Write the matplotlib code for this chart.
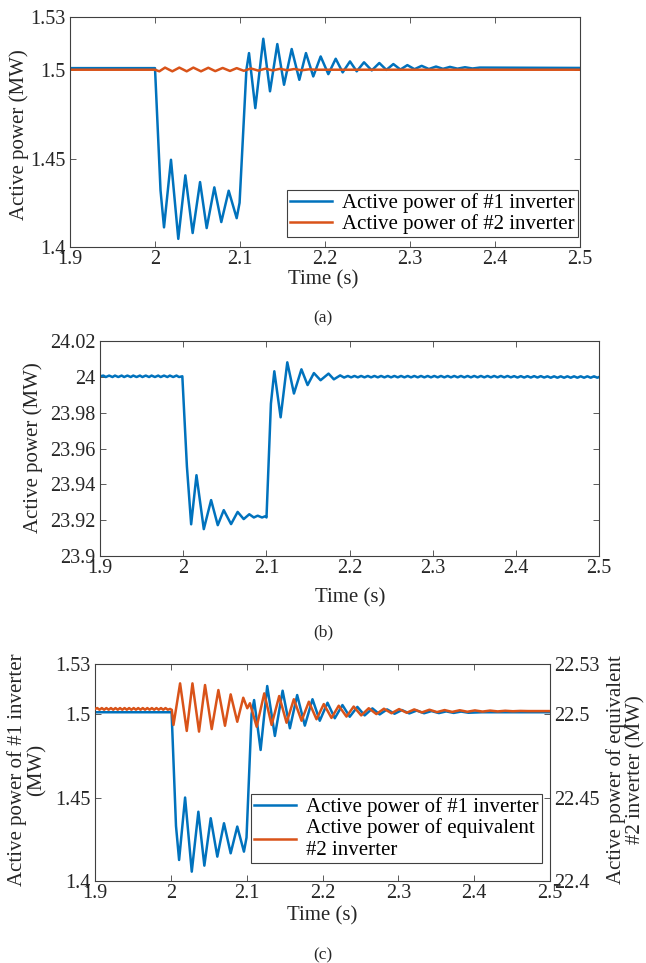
import matplotlib
matplotlib.use("Agg")
import matplotlib.pyplot as plt

plt.rcParams['font.family'] = ['Liberation Serif', 'DejaVu Serif']

BLUE = '#0072BD'
ORANGE = '#D95319'
EDGE = '#404040'
TXT = '#262626'

# ---------------- data ----------------
# (a) active power of #1 and #2 inverter (MW)
ta_1 = [1.9, 2.0, 2.0065, 2.0106, 2.0188, 2.0274, 2.0357, 2.0443, 2.053, 2.0608,
        2.0698, 2.078, 2.0867, 2.0961, 2.0995, 2.1075, 2.1106, 2.118, 2.1274, 2.1353,
        2.1439, 2.1518, 2.1608, 2.1698, 2.1776, 2.1862, 2.1949, 2.2039, 2.2126, 2.2208,
        2.2294, 2.2373, 2.2459, 2.255, 2.2639, 2.2722, 2.2804, 2.2887, 2.2969, 2.3053,
        2.3137, 2.3222, 2.3306, 2.3388, 2.347, 2.3558, 2.3647, 2.3735, 2.382, 2.5]
pa_1 = [1.5011, 1.5011, 1.432, 1.4111, 1.4493, 1.4046, 1.4405, 1.4079, 1.4367, 1.4107,
        1.4337, 1.4141, 1.4318, 1.4163, 1.425, 1.500, 1.5096, 1.4785, 1.5177, 1.488,
        1.5147, 1.4917, 1.5119, 1.4945, 1.5096, 1.4964, 1.5077, 1.4977, 1.5064, 1.4987,
        1.5049, 1.4993, 1.5044, 1.4998, 1.504, 1.5001, 1.5034, 1.5003, 1.5028, 1.5005,
        1.5024, 1.5006, 1.502, 1.5007, 1.5018, 1.5008, 1.5016, 1.5009, 1.5014, 1.5012]
ta_2 = [1.9, 2.0, 2.0051, 2.0118, 2.0204, 2.0286, 2.0373, 2.0451, 2.0541, 2.0627,
        2.0709, 2.0796, 2.0882, 2.0961, 2.1045, 2.113, 2.1215, 2.13, 2.1385, 2.147,
        2.1555, 2.164, 2.1725, 2.181, 2.19, 2.5]
pa_2 = [1.5002, 1.5002, 1.4993, 1.5014, 1.4993, 1.5014, 1.4993, 1.5014, 1.4993, 1.5013,
        1.4994, 1.5012, 1.4995, 1.5011, 1.4996, 1.5009, 1.4997, 1.5008, 1.4998, 1.5007,
        1.4999, 1.5006, 1.4999, 1.5004, 1.5002, 1.5002]

# (b) total active power (MW)
tb = [1.900, 1.904, 1.907, 1.911, 1.915, 1.918, 1.922, 1.926, 1.929, 1.933,
      1.937, 1.940, 1.944, 1.948, 1.951, 1.955, 1.959, 1.962, 1.966, 1.970,
      1.973, 1.977, 1.981, 1.984, 1.988, 1.992, 1.995, 1.999,
      2.0045, 2.0096, 2.016, 2.0248, 2.0336, 2.0416, 2.0488, 2.0576, 2.0655, 2.0728,
      2.0795, 2.085, 2.0896, 2.0948, 2.0988, 2.1002,
      2.1055, 2.1096, 2.1172, 2.1252, 2.1332, 2.1422, 2.1496, 2.1572, 2.1652, 2.1748,
      2.1812, 2.1888, 2.1935,
      2.198, 2.202, 2.206, 2.210, 2.214, 2.218, 2.222, 2.226, 2.230, 2.234,
      2.238, 2.242, 2.246, 2.250, 2.254, 2.258, 2.262, 2.266, 2.270, 2.274,
      2.278, 2.282, 2.286, 2.290, 2.294, 2.298, 2.302, 2.306, 2.310, 2.314,
      2.318, 2.322, 2.326, 2.330, 2.334, 2.338, 2.342, 2.346, 2.350, 2.354,
      2.358, 2.362, 2.366, 2.370, 2.374, 2.378, 2.382, 2.386, 2.390, 2.394,
      2.398, 2.402, 2.406, 2.410, 2.414, 2.418, 2.422, 2.426, 2.430, 2.434,
      2.438, 2.442, 2.446, 2.450, 2.454, 2.458, 2.462, 2.466, 2.470, 2.474,
      2.478, 2.482, 2.486, 2.490, 2.494, 2.498, 2.5]
pb = [24.0003, 24.0007, 23.9999, 24.0007, 23.9999, 24.0007, 23.9999, 24.0007, 23.9999, 24.0007,
      23.9999, 24.0007, 23.9999, 24.0007, 23.9999, 24.0007, 23.9999, 24.0007, 23.9999, 24.0007,
      23.9999, 24.0007, 23.9999, 24.0007, 23.9999, 24.0007, 23.9999, 24.0003,
      23.95, 23.9177, 23.9451, 23.915, 23.9312, 23.9172, 23.9256, 23.9178, 23.9246, 23.9206,
      23.9233, 23.9215, 23.9225, 23.9215, 23.9222, 23.9215,
      23.985, 24.0031, 23.9774, 24.0081, 23.9907, 24.0042, 23.9954, 24.0021, 23.9981, 24.0018,
      23.9986, 24.0008, 23.9996,
      24.0005, 23.9997, 24.0005, 23.9997, 24.0005, 23.9997, 24.0005, 23.9997, 24.0005, 23.9997,
      24.0005, 23.9997, 24.0005, 23.9997, 24.0005, 23.9997, 24.0005, 23.9997, 24.0005, 23.9997,
      24.0005, 23.9997, 24.0005, 23.9997, 24.0005, 23.9997, 24.0005, 23.9997, 24.0005, 23.9997,
      24.0005, 23.9997, 24.0005, 23.9997, 24.0005, 23.9997, 24.0005, 23.9997, 24.0005, 23.9997,
      24.0005, 23.9997, 24.0005, 23.9997, 24.0005, 23.9997, 24.0005, 23.9997, 24.0005, 23.9997,
      24.0004, 23.9996, 24.0004, 23.9996, 24.0004, 23.9996, 24.0004, 23.9996, 24.0004, 23.9996,
      24.0003, 23.9995, 24.0003, 23.9995, 24.0003, 23.9995, 24.0003, 23.9995, 24.0003, 23.9995,
      24.0003, 23.9995, 24.0003, 23.9995, 24.0003, 23.9995, 23.9999]

# (c) #1 inverter (left axis) and equivalent #2 inverter (right axis)
tc_1 = [1.9, 2.001, 2.0068, 2.0109, 2.0188, 2.0276, 2.0363, 2.0442, 2.0526, 2.0613,
        2.0701, 2.0789, 2.0876, 2.0964, 2.0998, 2.1065, 2.1098, 2.1184, 2.1271, 2.1372,
        2.1474, 2.157, 2.1666, 2.1767, 2.1868, 2.1964, 2.2066, 2.2162, 2.2263, 2.2359,
        2.246, 2.2556, 2.2658, 2.2754, 2.2852, 2.295, 2.3047, 2.3145, 2.3242, 2.334,
        2.3437, 2.3535, 2.3632, 2.373, 2.3827, 2.3925, 2.41, 2.5]
pc_1 = [1.5011, 1.5011, 1.433, 1.4126, 1.45, 1.4056, 1.4415, 1.4092, 1.4376, 1.4146,
        1.4346, 1.4166, 1.4326, 1.4176, 1.426, 1.50, 1.5084, 1.4785, 1.5168, 1.4869,
        1.514, 1.4915, 1.5114, 1.4931, 1.5089, 1.496, 1.5068, 1.4975, 1.5054, 1.4984,
        1.5043, 1.4992, 1.5034, 1.4998, 1.5028, 1.5002, 1.5024, 1.5004, 1.5021, 1.5005,
        1.5018, 1.5006, 1.5016, 1.5007, 1.5015, 1.5008, 1.5011, 1.5011]
tc_2 = [1.900, 1.903, 1.906, 1.909, 1.912, 1.915, 1.918, 1.921, 1.924, 1.927,
        1.930, 1.933, 1.936, 1.939, 1.942, 1.945, 1.948, 1.951, 1.954, 1.957,
        1.960, 1.963, 1.966, 1.969, 1.972, 1.975, 1.978, 1.981, 1.984, 1.987,
        1.990, 1.993, 1.996, 1.999,
        2.0013, 2.0035, 2.0122, 2.021, 2.0285, 2.0372, 2.0451, 2.0539, 2.0627, 2.0714,
        2.0789, 2.0876, 2.0955, 2.1008, 2.1043, 2.1132, 2.1232, 2.1329, 2.1429, 2.1526,
        2.1622, 2.1724, 2.182, 2.1921, 2.2017, 2.2118, 2.2214, 2.2316, 2.2411, 2.251,
        2.261, 2.271, 2.281, 2.291, 2.301, 2.311, 2.321, 2.331, 2.341, 2.351,
        2.361, 2.371, 2.381, 2.391, 2.401, 2.411, 2.421, 2.431, 2.441, 2.451,
        2.461, 2.471, 2.5]
pc_2 = [22.5031, 22.5036, 22.5026, 22.5036, 22.5026, 22.5036, 22.5026, 22.5036, 22.5026, 22.5036,
        22.5026, 22.5036, 22.5026, 22.5036, 22.5026, 22.5036, 22.5026, 22.5036, 22.5026, 22.5036,
        22.5026, 22.5036, 22.5026, 22.5036, 22.5026, 22.5036, 22.5026, 22.5036, 22.5026, 22.5036,
        22.5026, 22.5036, 22.5026, 22.5031,
        22.5025, 22.4935, 22.5184, 22.4899, 22.5184, 22.4895, 22.5174, 22.491, 22.5144, 22.493,
        22.5118, 22.4954, 22.5098, 22.5035, 22.5065, 22.4924, 22.5124, 22.4935, 22.5108, 22.4948,
        22.5089, 22.496, 22.5074, 22.4969, 22.506, 22.4977, 22.505, 22.4985, 22.5045, 22.4992,
        22.5035, 22.5, 22.5032, 22.5005, 22.503, 22.5008, 22.5028, 22.501, 22.5026, 22.5012,
        22.5024, 22.5013, 22.5023, 22.5014, 22.5022, 22.5015, 22.5021, 22.5016, 22.502, 22.5017,
        22.5019, 22.5018, 22.5018]

x_ticks = [1.9, 2.0, 2.1, 2.2, 2.3, 2.4, 2.5]
x_labels = ['1.9', '2', '2.1', '2.2', '2.3', '2.4', '2.5']
ya_ticks = [1.4, 1.45, 1.5, 1.53]
ya_labels = ['1.4', '1.45', '1.5', '1.53']
yb_ticks = [23.9, 23.92, 23.94, 23.96, 23.98, 24.0, 24.02]
yb_labels = ['23.9', '23.92', '23.94', '23.96', '23.98', '24', '24.02']
yc2_ticks = [22.4, 22.45, 22.5, 22.53]
yc2_labels = ['22.4', '22.45', '22.5', '22.53']

# ---------------- layout (pixel boxes) ----------------
W, H = 646, 963
TICK_FS = 14.5
LAB_FS = 15
LEG_FS = 15


def box(l, t, r, b):
    return [l / W, 1 - b / H, (r - l) / W, (b - t) / H]


def ftext(x, y, s, **kw):
    fig.text(x / W, 1 - y / H, s, ha='center', va='center', color=TXT, **kw)


def style(ax, right=True):
    for sp in ax.spines.values():
        sp.set_color(EDGE)
        sp.set_linewidth(0.8)
    ax.tick_params(direction='in', length=4, width=0.6, colors=EDGE,
                   labelcolor=TXT, labelsize=TICK_FS, top=True, right=right)
    ax.tick_params(axis='x', pad=2)
    ax.tick_params(axis='y', pad=3)
    ax.set_xlim(1.9, 2.5)
    ax.set_xticks(x_ticks, x_labels)


def legend(ax, handles, labels, anchor):
    leg = ax.legend(handles, labels, loc='lower right', bbox_to_anchor=anchor,
                    borderaxespad=0, fontsize=LEG_FS, fancybox=False, edgecolor=EDGE,
                    framealpha=1, handlelength=2.0, handletextpad=0.5,
                    labelspacing=0.05, borderpad=0.15)
    leg.get_frame().set_linewidth(0.8)


fig = plt.figure(figsize=(W / 100, H / 100), dpi=100)

# (a)
axa = fig.add_axes(box(70, 17, 580, 247))
la1, = axa.plot(ta_1, pa_1, color=BLUE, lw=1.8, solid_joinstyle='round')
la2, = axa.plot(ta_2, pa_2, color=ORANGE, lw=1.8, solid_joinstyle='round')
style(axa)
axa.set_ylim(1.4, 1.53)
axa.set_yticks(ya_ticks, ya_labels)
legend(axa, [la1, la2], ['Active power of #1 inverter', 'Active power of #2 inverter'],
       (0.996, 0.043))
ftext(19, 135, 'Active power (MW)', rotation=90, fontsize=LAB_FS)
ftext(323, 280, 'Time (s)', fontsize=LAB_FS)
ftext(323, 318, '(a)', fontsize=12.5)

# (b)
axb = fig.add_axes(box(100, 341, 599, 556))
axb.plot(tb, pb, color=BLUE, lw=1.8, solid_joinstyle='round')
style(axb)
axb.set_ylim(23.9, 24.02)
axb.set_yticks(yb_ticks, yb_labels)
ftext(33, 448, 'Active power (MW)', rotation=90, fontsize=LAB_FS)
ftext(350, 598, 'Time (s)', fontsize=LAB_FS)
ftext(323, 632, '(b)', fontsize=12.5)

# (c)
axc = fig.add_axes(box(95, 664, 550, 881))
lc1, = axc.plot(tc_1, pc_1, color=BLUE, lw=1.8, solid_joinstyle='round')
style(axc, right=False)
axc.set_ylim(1.4, 1.53)
axc.set_yticks(ya_ticks, ya_labels)
axc2 = axc.twinx()
lc2, = axc2.plot(tc_2, pc_2, color=ORANGE, lw=1.8, solid_joinstyle='round')
for sp in axc2.spines.values():
    sp.set_visible(False)
axc2.tick_params(direction='in', length=4, width=0.6, colors=EDGE,
                 labelcolor=TXT, labelsize=TICK_FS, pad=3)
axc2.set_ylim(22.4, 22.53)
axc2.set_yticks(yc2_ticks, yc2_labels)
legend(axc2, [lc1, lc2], ['Active power of #1 inverter', 'Active power of equivalent\n#2 inverter'],
       (0.982, 0.083))
ftext(27, 770, 'Active power of #1 inverter\n(MW)', rotation=90, fontsize=LAB_FS,
      linespacing=1.0)
ftext(626, 770, 'Active power of equivalent\n#2 inverter (MW)', rotation=90, fontsize=LAB_FS,
      linespacing=1.0)
ftext(322, 916, 'Time (s)', fontsize=LAB_FS)
ftext(323, 955, '(c)', fontsize=12.5)

fig.savefig('out.png', dpi=100)
